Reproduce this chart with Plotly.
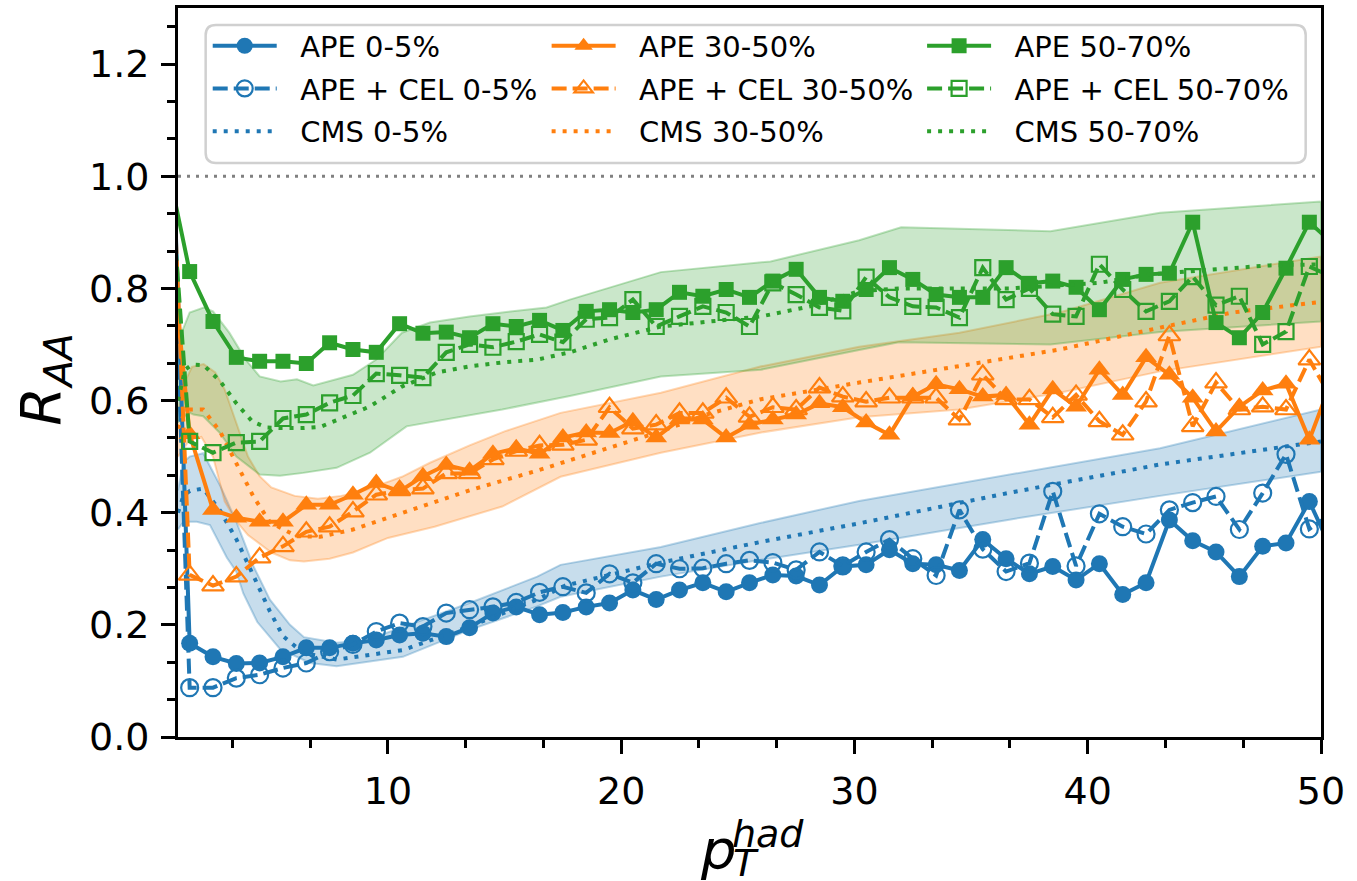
import plotly.graph_objects as go

# ---------------- data ----------------
pt_bins = [0.5, 1.5, 2.5, 3.5, 4.5, 5.5, 6.5, 7.5, 8.5, 9.5, 10.5, 11.5, 12.5, 13.5, 14.5,
           15.5, 16.5, 17.5, 18.5, 19.5, 20.5, 21.5, 22.5, 23.5, 24.5, 25.5, 26.5, 27.5,
           28.5, 29.5, 30.5, 31.5, 32.5, 33.5, 34.5, 35.5, 36.5, 37.5, 38.5, 39.5, 40.5,
           41.5, 42.5, 43.5, 44.5, 45.5, 46.5, 47.5, 48.5, 49.5, 50.5]

ape_0_5 = [1.4, 0.167, 0.143, 0.131, 0.132, 0.143, 0.159, 0.159, 0.167, 0.173, 0.182, 0.185,
           0.179, 0.195, 0.221, 0.232, 0.218, 0.222, 0.232, 0.239, 0.262, 0.245, 0.262, 0.275,
           0.259, 0.275, 0.289, 0.287, 0.271, 0.304, 0.307, 0.334, 0.309, 0.307, 0.297, 0.352,
           0.318, 0.291, 0.304, 0.28, 0.309, 0.254, 0.275, 0.387, 0.35, 0.33, 0.286, 0.34,
           0.346, 0.42, 0.33]
cel_0_5 = [1.3, 0.088, 0.088, 0.105, 0.111, 0.123, 0.132, 0.152, 0.165, 0.188, 0.203, 0.197,
           0.221, 0.227, 0.232, 0.24, 0.258, 0.268, 0.257, 0.291, 0.275, 0.309, 0.30, 0.301,
           0.309, 0.315, 0.311, 0.298, 0.33, 0.305, 0.33, 0.352, 0.318, 0.288, 0.405, 0.335,
           0.295, 0.31, 0.438, 0.305, 0.398, 0.375, 0.362, 0.405, 0.418, 0.429, 0.37, 0.435,
           0.504, 0.371, 0.40]
ape_30_50 = [0.96, 0.54, 0.405, 0.391, 0.384, 0.384, 0.414, 0.414, 0.432, 0.453, 0.438, 0.465,
             0.485, 0.475, 0.505, 0.515, 0.505, 0.534, 0.543, 0.542, 0.563, 0.534, 0.566, 0.566,
             0.534, 0.557, 0.566, 0.575, 0.595, 0.588, 0.561, 0.539, 0.607, 0.629, 0.62, 0.607,
             0.61, 0.557, 0.62, 0.589, 0.655, 0.61, 0.677, 0.646, 0.605, 0.545, 0.589, 0.618,
             0.63, 0.53, 0.64]
cel_30_50 = [1.3, 0.289, 0.27, 0.286, 0.32, 0.34, 0.366, 0.375, 0.402, 0.432, 0.44, 0.443,
             0.47, 0.47, 0.495, 0.51, 0.52, 0.521, 0.53, 0.588, 0.55, 0.557, 0.578, 0.578,
             0.605, 0.571, 0.588, 0.584, 0.623, 0.607, 0.598, 0.605, 0.605, 0.605, 0.566, 0.646,
             0.602, 0.602, 0.57, 0.61, 0.563, 0.539, 0.598, 0.716, 0.554, 0.632, 0.584, 0.589,
             0.584, 0.673, 0.60]
ape_50_70 = [1.03, 0.83, 0.741, 0.677, 0.67, 0.67, 0.666, 0.703, 0.691, 0.686, 0.737, 0.72,
             0.722, 0.712, 0.737, 0.732, 0.743, 0.725, 0.759, 0.762, 0.757, 0.762, 0.793, 0.786,
             0.798, 0.784, 0.813, 0.834, 0.784, 0.777, 0.798, 0.837, 0.816, 0.789, 0.784, 0.784,
             0.837, 0.809, 0.813, 0.802, 0.762, 0.816, 0.825, 0.827, 0.918, 0.739, 0.712, 0.757,
             0.836, 0.918, 0.88]
cel_50_70 = [1.1, 0.527, 0.507, 0.525, 0.527, 0.568, 0.575, 0.596, 0.609, 0.648, 0.645, 0.641,
             0.686, 0.70, 0.695, 0.705, 0.718, 0.704, 0.745, 0.748, 0.78, 0.732, 0.75, 0.768,
             0.757, 0.732, 0.81, 0.789, 0.766, 0.76, 0.82, 0.784, 0.768, 0.766, 0.748, 0.837,
             0.78, 0.80, 0.754, 0.75, 0.843, 0.798, 0.759, 0.777, 0.821, 0.77, 0.786, 0.70,
             0.723, 0.839, 0.82]

# CMS central curves
cms_x_0_5 = [1.0, 1.23, 1.51, 2.08, 2.8, 3.51, 4.23, 4.94, 5.5, 6.36, 7.8, 10.64, 13.5, 16.4,
             17.6, 21.7, 26.0, 30.2, 36.7, 43.1, 50.0]
cms_0_5 = [0.40, 0.43, 0.439, 0.443, 0.404, 0.352, 0.288, 0.224, 0.18, 0.15, 0.138, 0.155,
           0.197, 0.245, 0.27, 0.311, 0.348, 0.381, 0.436, 0.486, 0.527]
cms_x_30_50 = [1.0, 1.25, 1.51, 2.08, 2.8, 3.51, 4.23, 4.94, 5.51, 6.09, 7.09, 8.5, 10.64, 13.5,
               16.4, 19.5, 21.7, 23.66, 25.95, 30.2, 34.5, 38.8, 43.1, 46.2, 50.0]
cms_30_50 = [0.55, 0.575, 0.584, 0.584, 0.545, 0.4875, 0.429, 0.383, 0.37, 0.358, 0.357, 0.37,
             0.40, 0.44, 0.475, 0.515, 0.545, 0.575, 0.602, 0.632, 0.661, 0.691, 0.73, 0.757,
             0.776]
cms_x_50_70 = [1.0, 1.3, 1.6, 2.1, 2.8, 3.5, 4.2, 4.8, 5.4, 6.4, 7.1, 8.2, 9.2, 10.6, 12.1,
               13.5, 14.9, 16.4, 17.8, 19.5, 21.7, 23.8, 26.0, 28.1, 30.2, 32.0, 36.7, 40.5,
               42.7, 45.5, 47.8, 50.0]
cms_50_70 = [0.60, 0.655, 0.664, 0.663, 0.635, 0.595, 0.562, 0.552, 0.551, 0.551, 0.553, 0.571,
             0.589, 0.625, 0.65, 0.661, 0.668, 0.673, 0.686, 0.709, 0.732, 0.741, 0.75, 0.768,
             0.795, 0.80, 0.80, 0.81, 0.825, 0.834, 0.841, 0.843]

# CMS uncertainty bands
band_hi_x_0_5 = [1.0, 1.23, 1.5, 2.08, 2.8, 3.5, 4.23, 4.94, 5.8, 6.4, 7.8, 9.0, 10.64, 13.5,
                 16.4, 17.4, 21.7, 26.0, 30.2, 36.7, 43.1, 50.0]
band_hi_0_5 = [0.44, 0.49, 0.50, 0.506, 0.449, 0.384, 0.305, 0.245, 0.20, 0.178, 0.168, 0.172,
               0.196, 0.239, 0.286, 0.307, 0.339, 0.382, 0.421, 0.468, 0.515, 0.584]
band_lo_x_0_5 = [1.0, 1.23, 1.8, 2.37, 3.09, 3.5, 3.8, 4.4, 5.37, 6.66, 7.8, 10.64, 13.5, 16.4,
                 17.4, 21.7, 26.0, 30.2, 36.7, 43.1, 50.0]
band_lo_0_5 = [0.37, 0.384, 0.384, 0.378, 0.32, 0.295, 0.256, 0.205, 0.157, 0.132, 0.126, 0.143,
               0.191, 0.233, 0.25, 0.286, 0.316, 0.343, 0.388, 0.43, 0.473]

band_hi_x_30_50 = [1.0, 1.25, 1.6, 2.1, 2.6, 3.0, 3.5, 4.0, 4.5, 5.0, 6.0, 7.0, 8.0, 9.0, 10.0,
                   10.6, 11.8, 13.5, 15.0, 17.4, 21.7, 26.0, 30.2, 34.5, 38.8, 43.1, 50.0]
band_hi_30_50 = [0.58, 0.63, 0.66, 0.665, 0.65, 0.62, 0.56, 0.50, 0.465, 0.445, 0.43, 0.425,
                 0.43, 0.44, 0.455, 0.464, 0.489, 0.52, 0.545, 0.578, 0.614, 0.661, 0.696,
                 0.721, 0.757, 0.81, 0.857]
band_lo_x_30_50 = [1.0, 1.5, 2.0, 2.5, 3.0, 3.5, 4.0, 4.5, 5.0, 5.8, 6.4, 7.5, 8.5, 10.0, 12.0,
                   14.9, 17.4, 21.7, 26.0, 30.2, 34.5, 38.8, 43.1, 50.0]
band_lo_30_50 = [0.50, 0.53, 0.535, 0.50, 0.42, 0.385, 0.36, 0.345, 0.329, 0.315, 0.313, 0.318,
                 0.329, 0.355, 0.375, 0.411, 0.464, 0.507, 0.543, 0.57, 0.584, 0.614, 0.652,
                 0.696]

band_hi_x_50_70 = [1.0, 1.2, 1.5, 2.1, 2.5, 3.2, 3.9, 4.5, 5.4, 6.1, 6.8, 7.8, 8.5, 9.5, 10.6,
                   11.8, 13.5, 14.9, 16.8, 17.8, 21.7, 26.4, 30.2, 32.0, 38.4, 43.1, 50.0]
band_hi_50_70 = [0.66, 0.726, 0.757, 0.766, 0.759, 0.721, 0.673, 0.643, 0.634, 0.638, 0.627,
                 0.638, 0.646, 0.673, 0.721, 0.739, 0.75, 0.757, 0.766, 0.78, 0.829, 0.848,
                 0.886, 0.909, 0.902, 0.935, 0.955]
band_lo_x_50_70 = [1.0, 1.23, 1.66, 2.08, 2.8, 3.5, 4.5, 5.37, 6.37, 7.8, 9.23, 10.8, 12.1, 14.9,
                   17.8, 21.7, 26.0, 30.2, 31.9, 38.4, 43.1, 50.0]
band_lo_50_70 = [0.56, 0.584, 0.575, 0.572, 0.542, 0.50, 0.468, 0.466, 0.471, 0.48, 0.507,
                 0.554, 0.563, 0.584, 0.608, 0.643, 0.655, 0.69, 0.704, 0.70, 0.722, 0.741]

x_ticks = [10, 20, 30, 40, 50]
y_ticks = [0.0, 0.2, 0.4, 0.6, 0.8, 1.0, 1.2]

# ---------------- style ----------------
BLUE, ORANGE, GREEN = "#1f77b4", "#ff7f0e", "#2ca02c"
RGB = {BLUE: "31,119,180", ORANGE: "255,127,14", GREEN: "44,160,44"}
FONT = "DejaVu Sans"
LW = 4
DASH = "15px,6px"
DOT = "4px,7px"
PAD = "\u00a0\u00a0"  # visual gap between legend symbol and label

fig = go.Figure()


def add_band(xh, yh, xl, yl, color):
    fig.add_trace(go.Scatter(
        x=xh + xl[::-1], y=yh + yl[::-1], mode="lines", fill="toself",
        fillcolor=f"rgba({RGB[color]},0.25)",
        line=dict(color=f"rgba({RGB[color]},0.3)", width=2),
        hoverinfo="skip", showlegend=False))


add_band(band_hi_x_0_5, band_hi_0_5, band_lo_x_0_5, band_lo_0_5, BLUE)
add_band(band_hi_x_30_50, band_hi_30_50, band_lo_x_30_50, band_lo_30_50, ORANGE)
add_band(band_hi_x_50_70, band_hi_50_70, band_lo_x_50_70, band_lo_50_70, GREEN)

groups = [
    ("0-5%", BLUE, ape_0_5, cel_0_5, cms_x_0_5, cms_0_5, "circle", 17, "legend"),
    ("30-50%", ORANGE, ape_30_50, cel_30_50, cms_x_30_50, cms_30_50, "triangle-up", 19, "legend2"),
    ("50-70%", GREEN, ape_50_70, cel_50_70, cms_x_50_70, cms_50_70, "square", 15, "legend3"),
]

for name, col, ape, cel, cx, cy, sym, ms, leg in groups:
    fig.add_trace(go.Scatter(
        x=pt_bins, y=ape, mode="lines+markers", name=f"{PAD}APE {name}",
        line=dict(color=col, width=LW),
        marker=dict(symbol=sym, size=ms, color=col, line=dict(width=0)),
        legend=leg, legendgroup=f"a{name}", legendrank=1))
    fig.add_trace(go.Scatter(
        x=pt_bins, y=cel, mode="lines+markers", name=f"{PAD}APE + CEL {name}",
        line=dict(color=col, width=LW, dash=DASH),
        marker=dict(symbol=sym + "-open", size=ms, color=col, line=dict(width=2.2, color=col)),
        legend=leg, legendgroup=f"b{name}", legendrank=2))
    fig.add_trace(go.Scatter(
        x=cx, y=cy, mode="lines", name=f"{PAD}CMS {name}",
        line=dict(color=col, width=LW, dash=DOT),
        legend=leg, legendgroup=f"c{name}", legendrank=3))

axis_common = dict(
    showline=True, linewidth=3, linecolor="black", mirror=True,
    ticks="outside", ticklen=14, tickwidth=3, tickcolor="black",
    showgrid=False, zeroline=False,
    tickfont=dict(family=FONT, size=38, color="black"),
)

fig.update_xaxes(range=[1, 50], tickvals=x_ticks,
                 minor=dict(ticks="outside", ticklen=8, tickwidth=2.5, tickcolor="black",
                            dtick=10 / 3, tick0=0, showgrid=False),
                 ticklabelstandoff=4, **axis_common)
fig.update_yaxes(range=[0, 1.3], tickvals=y_ticks, tickformat=".1f",
                 minor=dict(ticks="outside", ticklen=8, tickwidth=2.5, tickcolor="black",
                            dtick=0.2 / 3, tick0=0, showgrid=False),
                 ticklabelstandoff=4, **axis_common)

# reference line at 1
fig.add_shape(type="line", xref="paper", x0=0, x1=1, yref="y", y0=1.0, y1=1.0,
              line=dict(color="gray", width=3, dash="3px,6px"), layer="below")

# legend frame (rounded)
L, R, B, T = 0.0242, 0.9866, 0.7874, 0.9767
rx, ry = 0.009, 0.014
path = (f"M{L+rx},{B} L{R-rx},{B} Q{R},{B} {R},{B+ry} L{R},{T-ry} Q{R},{T} {R-rx},{T} "
        f"L{L+rx},{T} Q{L},{T} {L},{T-ry} L{L},{B+ry} Q{L},{B} {L+rx},{B} Z")
fig.add_shape(type="path", path=path, xref="paper", yref="paper",
              fillcolor="rgba(255,255,255,0.8)", line=dict(color="#d0d0d0", width=2.5),
              layer="above")

leg_common = dict(bgcolor="rgba(0,0,0,0)", borderwidth=0, yanchor="top", xanchor="left",
                  y=0.983, font=dict(family=FONT, size=29, color="black"),
                  itemwidth=64, traceorder="grouped", tracegroupgap=2)
fig.update_layout(
    legend=dict(x=0.026, **leg_common),
    legend2=dict(x=0.3225, **leg_common),
    legend3=dict(x=0.651, **leg_common),
)

# axis labels
fig.add_annotation(text="<i>R</i><sub><i>AA</i></sub>", xref="paper", yref="paper",
                   x=(45 - 178) / 1143, y=0.49, textangle=-90, showarrow=False,
                   font=dict(family=FONT, size=56, color="black"), xanchor="center", yanchor="middle")
fig.add_annotation(text="<i>p</i>", xref="paper", yref="paper",
                   x=(718 - 178) / 1143, y=(737 - 849) / 729, showarrow=False,
                   font=dict(family=FONT, size=56, color="black"), xanchor="center", yanchor="middle")
fig.add_annotation(text="<i>had</i>", xref="paper", yref="paper",
                   x=(768 - 178) / 1143, y=(737 - 834) / 729, showarrow=False,
                   font=dict(family=FONT, size=38, color="black"), xanchor="center", yanchor="middle")
fig.add_annotation(text="<i>T</i>", xref="paper", yref="paper",
                   x=(746 - 178) / 1143, y=(737 - 863) / 729, showarrow=False,
                   font=dict(family=FONT, size=38, color="black"), xanchor="center", yanchor="middle")

fig.update_layout(
    width=1357, height=881,
    margin=dict(l=178, r=36, t=8, b=144, pad=0),
    paper_bgcolor="white", plot_bgcolor="white",
    font=dict(family=FONT, color="black"),
    template="none",
)

fig.write_html("out.html")
